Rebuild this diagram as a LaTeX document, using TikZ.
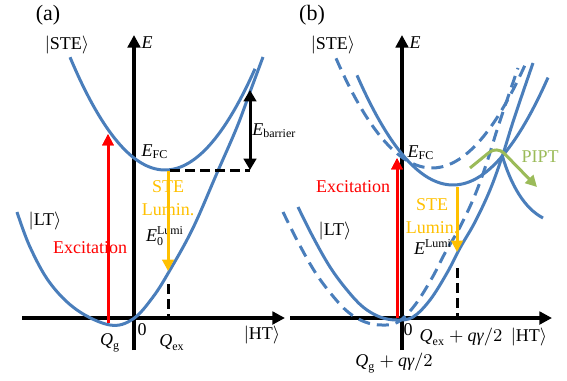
\documentclass[tikz,border=0pt]{standalone}
\usepackage{amsmath}
\usepackage{fontspec}
\setmainfont{Liberation Serif}
\usepackage{tikz}
\usetikzlibrary{arrows.meta}
\definecolor{curveblue}{RGB}{74,126,187}
\definecolor{exred}{RGB}{255,0,0}
\definecolor{lumorange}{RGB}{255,192,0}
\definecolor{piptgreen}{RGB}{155,187,89}
\tikzset{
	axis/.style={draw=black,line width=1.6pt,-{Triangle[length=2.2mm,width=2.2mm]}},
	curve/.style={draw=curveblue,line width=1.5pt},
	dcurve/.style={curve,dash pattern=on 6pt off 3.5pt},
	txt/.style={font=\fontsize{9}{11.5}\selectfont,inner sep=0pt,align=center}
}

\begin{document}
\begin{tikzpicture}[x=0.5pt,y=-0.5pt,
			exarrow/.style={draw=exred,line width=1.5pt,-{Triangle[length=2mm,width=1.9mm]}},
			lumarrow/.style={draw=lumorange,line width=1.5pt,-{Triangle[length=2mm,width=2mm]}},
			barrow/.style={draw=black,line width=1.5pt,
				{Triangle[length=2mm,width=2.2mm]}-{Triangle[length=2mm,width=2.2mm]}},
			guide/.style={draw=black,line width=1.5pt,dash pattern=on 5pt off 2.5pt},
			pipt/.style={draw=piptgreen,line width=1.5pt,rounded corners=5pt,
				-{Triangle[length=2mm,width=2mm]}}]
			\useasboundingbox (0,0) rectangle (567,380);
			\coordinate (ha0) at (22,318);  \coordinate (ha1) at (285,318);
			\coordinate (va0) at (134,350); \coordinate (va1) at (134,35);
			\coordinate (hb0) at (290,318); \coordinate (hb1) at (552,318);
			\coordinate (vb0) at (402,350); \coordinate (vb1) at (402,35);
			\foreach \p in {a,b} {
				\draw[axis] (h\p0) -- (h\p1);
				\draw[axis] (v\p0) -- (v\p1);
			}
			\coordinate (xa0) at (108,323); \coordinate (xa1) at (108,134);
			\coordinate (xb0) at (397,318); \coordinate (xb1) at (397,158);
			\draw[exarrow] (xa0) -- (xa1);
			\draw[exarrow] (xb0) -- (xb1);
			\draw[curve] plot[domain=70:255,samples=60] (\x,{170-0.0125*(\x-165)*(\x-165)});
			\draw[curve] plot[smooth,tension=0.6] coordinates {(17,212) (30,247) (50,283) (77,310)
				(110,325) (133,319) (153,297) (170,270) (193,228) (217,173) (237,127) (250,92) (263,57)};
			\foreach \s/\c in {{(0,0)}/curve,{(-21,-17)}/dcurve}
			\draw[\c,shift={\s}] plot[domain=357:548,samples=60] (\x,{185-0.0119*(\x-453)*(\x-453)});
			\foreach \s/\c in {{(0,0)}/curve,{(-15,5)}/dcurve}
			\draw[\c,shift={\s}] plot[smooth,tension=0.6] coordinates {(298,207) (313,237) (330,267)
				(347,290) (363,307) (380,317) (397,320) (413,317) (430,300) (447,273) (460,248)
				(475,222) (490,190) (502,157) (512,125) (522,95) (533,63)};
			\draw[curve] (502,155) .. controls (511,185) and (524,208) .. (543,218);
			\coordinate (ga0) at (170,170); \coordinate (ga1) at (250,170);
			\coordinate (ba0) at (250,170); \coordinate (ba1) at (250,90);
			\coordinate (la0) at (168,171); \coordinate (la1) at (168,271);
			\coordinate (qa0) at (168,284); \coordinate (qa1) at (168,318);
			\coordinate (lb0) at (457,187); \coordinate (lb1) at (457,252);
			\coordinate (qb0) at (457,268); \coordinate (qb1) at (457,318);
			\coordinate (pb0) at (470,168); \coordinate (pb1) at (497,146); \coordinate (pb2) at (537,187);
			\draw[guide] (ga0) -- (ga1);
			\draw[barrow] (ba0) -- (ba1);
			\draw[guide] (qa0) -- (qa1);
			\draw[guide] (qb0) -- (qb1);
			\draw[pipt] (pb0) -- (pb1) -- (pb2);
			\foreach \n/\z/\t in {ta/{(48,15)}/{\fontsize{11}{12}\selectfont(a)},
				tb/{(312,15)}/{\fontsize{11}{12}\selectfont(b)},
				sa/{(67,45)}/{$|$STE$\rangle$},sb/{(333,45)}/{$|$STE$\rangle$},
				ea/{(147,43)}/{\textit{E}},eb/{(415,43)}/{\textit{E}},
				fa/{(155,152)}/{$\textit{E}_{\text{FC}}$},fb/{(421,153)}/{$\textit{E}_{\text{FC}}$},
				ma/{(45,221)}/{$|$LT$\rangle$},mb/{(335,231)}/{$|$LT$\rangle$},
				za/{(142,330)}/{0},zb/{(408,330)}/{0},
				ka/{(262,335)}/{$|$HT$\rangle$},kb/{(529,337)}/{$|$HT$\rangle$},
				ga/{(110,343)}/{$\textit{Q}_{\text{g}}$},ca/{(172,343)}/{$\textit{Q}_{\text{ex}}$},
				gb/{(394,363)}/{$\textit{Q}_{\text{g}}+\textit{qγ}/2$},
				cb/{(461,337)}/{$\textit{Q}_{\text{ex}}+\textit{qγ}/2$},
				ua/{(165,236)}/{$\textit{E}_{\text{0}}^{\text{Lumi}}$},
				ub/{(433,247)}/{$\textit{E}^{\text{Lumi}}$}}
			\node[txt] (\n) at \z {\t};
			\node[txt,anchor=west] (bar) at (252,131) {$\textit{E}_{\text{barrier}}$};
			\node[txt,text=exred] (exa) at (90,248) {Excitation};
			\node[txt,text=exred] (exb) at (353,187) {Excitation};
			\node[txt,text=lumorange] (lma) at (168,198) {STE\\Lumin.};
			\node[txt,text=lumorange] (lmb) at (432,216) {STE\\Lumin.};
			\node[txt,text=piptgreen] (pp) at (540,157) {PIPT};
			\draw[exarrow] (xa0) -- (xa1);
			\draw[exarrow] (xb0) -- (xb1);
			\draw[lumarrow] (la0) -- (la1);
			\draw[lumarrow] (lb0) -- (lb1);
		\end{tikzpicture}
\end{document}
